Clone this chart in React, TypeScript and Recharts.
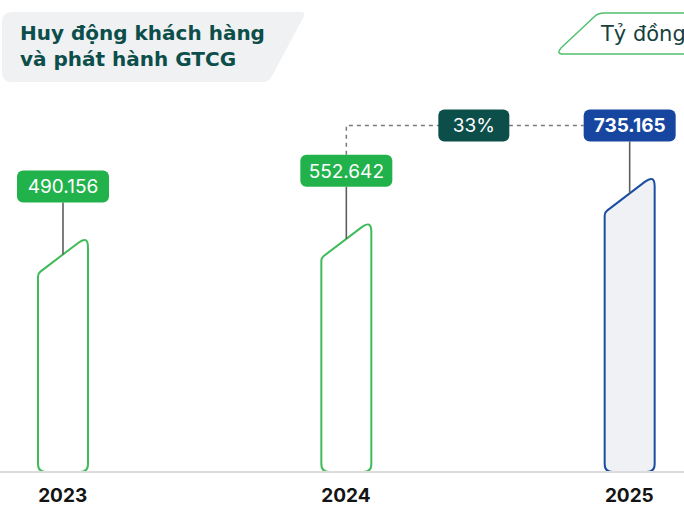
import React from 'react';
import { BarChart, Bar, XAxis, YAxis } from 'recharts';

const years = ['2023', '2024', '2025'];
const values = [490156, 552642, 735165];
const valueLabels = ['490.156', '552.642', '735.165'];
const growthLabel = '33%';
const titleLines = ['Huy động khách hàng', 'và phát hành GTCG'];
const unitLabel = 'Tỷ đồng';

const Y_MIN = -460000;
const Y_MAX = 1435600;

const data = years.map((year, i) => ({ year, range: [Y_MIN, values[i]], label: valueLabels[i] }));

const FONT = 'Inter, "Noto Sans", sans-serif';
const TITLE_FONT = '"DejaVu Sans", sans-serif';
const GREEN = '#3fbb5a';
const GREEN_FILL = '#22b24c';
const BLUE = '#1b4ea3';
const BLUE_FILL = '#1646a0';
const TEAL = '#0c4e4a';

type Geo = { cx: number; top: number; mid: number; left: number; right: number };
const geo: Record<number, Geo> = {};

const renderBar = (p: any) => {
  const { x, y, width: w, height: h, index, payload } = p;
  const last = index === years.length - 1;
  const x0 = x, x1 = x + w, yt = y, yb = y + h;
  const drop = 38;
  const ys = yt + drop;
  const L = Math.sqrt(w * w + drop * drop);
  const ux = w / L, uy = drop / L;
  const r = 12, rb = 8;
  const path = [
    `M ${x0} ${yb - rb}`,
    `L ${x0} ${ys + 3}`,
    `Q ${x0} ${ys} ${x0 + 3 * ux} ${ys - 3 * uy}`,
    `L ${x1 - r * ux} ${yt + r * uy}`,
    `Q ${x1} ${yt} ${x1} ${yt + r}`,
    `L ${x1} ${yb - rb}`,
    `Q ${x1} ${yb} ${x1 - rb} ${yb}`,
    `L ${x0 + rb} ${yb}`,
    `Q ${x0} ${yb} ${x0} ${yb - rb}`,
    'Z',
  ].join(' ');
  const cx = x + w / 2;
  const bw = 92, bh = 32;
  const lb = yt - 33;
  const lt = lb - bh;
  geo[index] = { cx, top: lt, mid: lt + bh / 2, left: cx - bw / 2, right: cx + bw / 2 };
  const prev = geo[index - 1];
  let connector: any = null;
  if (last && prev) {
    const gx = prev.cx + 0.45 * (cx - prev.cx);
    const gy = lt + bh / 2;
    connector = (
      <g>
        <path
          d={`M ${prev.cx} ${prev.top} L ${prev.cx} ${gy} L ${cx - bw / 2} ${gy}`}
          fill="none"
          stroke="#7a7a7a"
          strokeWidth={1.5}
          strokeDasharray="4 4"
        />
        <rect x={gx - 35.5} y={gy - 16} width={71} height={32} rx={6} fill={TEAL} />
        <text x={gx} y={gy + 7} textAnchor="middle" fill="#fff" fontSize={19} fontFamily={FONT}>
          {growthLabel}
        </text>
      </g>
    );
  }
  return (
    <g>
      {connector}
      <path d={path} fill={last ? '#eff1f4' : '#ffffff'} stroke={last ? BLUE : GREEN} strokeWidth={2} />
      <line x1={cx} y1={lb} x2={cx} y2={yt + drop / 2} stroke="#5e5e5e" strokeWidth={1.6} />
      <rect x={cx - bw / 2} y={lt} width={bw} height={bh} rx={6} fill={last ? BLUE_FILL : GREEN_FILL} />
      <text
        x={cx}
        y={lt + bh / 2 + 7}
        textAnchor="middle"
        fill="#fff"
        fontSize={19}
        fontWeight={last ? 700 : 400}
        fontFamily={FONT}
      >
        {payload.label}
      </text>
    </g>
  );
};

const YearTick = (p: any) => {
  const { x, y, payload } = p;
  return (
    <text x={x} y={y} dy={22} textAnchor="middle" fill="#141414" fontSize={19} fontWeight={700} fontFamily={FONT}>
      {payload.value}
    </text>
  );
};

export default function App() {
  return (
    <div
      style={{
        position: 'fixed',
        left: 0,
        top: 0,
        width: 684,
        height: 507,
        overflow: 'hidden',
        background: '#fff',
      }}
    >
      <div style={{ position: 'absolute', left: -79, top: 0 }}>
        <BarChart width={850} height={507} data={data} margin={{ top: 0, right: 0, bottom: 0, left: 0 }} barSize={50}>
          <YAxis hide domain={[Y_MIN, Y_MAX]} allowDataOverflow />
          <XAxis
            dataKey="year"
            height={35}
            axisLine={{ stroke: '#dcdcdc', strokeWidth: 2 }}
            tickLine={false}
            tick={<YearTick />}
            interval={0}
          />
          <Bar dataKey="range" isAnimationActive={false} shape={(p: any) => renderBar(p)} />
        </BarChart>
      </div>
      <svg width={684} height={507} style={{ position: 'absolute', left: 0, top: 0, pointerEvents: 'none' }}>
        <path
          d="M 12 12 L 300 12 Q 307 12 303 18 L 272 76 Q 269 82 262 82 L 12 82 Q 2 82 2 72 L 2 22 Q 2 12 12 12 Z"
          fill="#f0f1f3"
        />
        <text x={20} y={40} fill={TEAL} fontSize={20} fontWeight={700} fontFamily={TITLE_FONT}>
          {titleLines[0]}
        </text>
        <text x={20} y={66} fill={TEAL} fontSize={20} fontWeight={700} fontFamily={TITLE_FONT}>
          {titleLines[1]}
        </text>
        <path
          d="M 700 13 L 604 13 Q 598 13 594 17 L 561 48 Q 556 54 563 54 L 700 54"
          fill="#fff"
          stroke="#52c06e"
          strokeWidth={1.5}
        />
        <text x={601} y={41} fill="#163f3d" fontSize={21} fontFamily={TITLE_FONT}>
          {unitLabel}
        </text>
      </svg>
    </div>
  );
}
